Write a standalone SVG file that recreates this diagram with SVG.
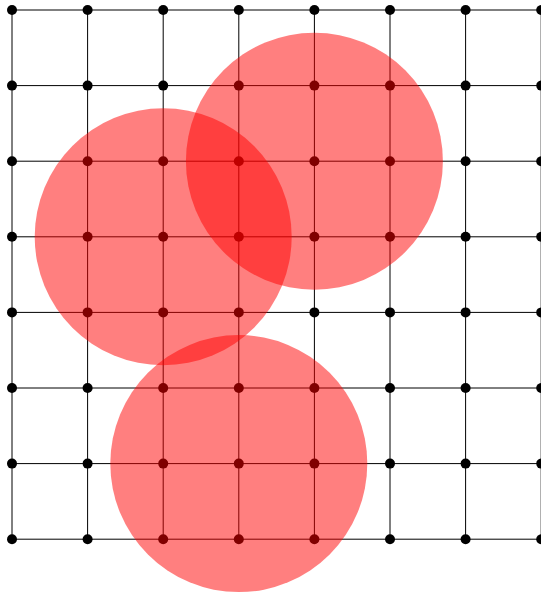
<svg xmlns="http://www.w3.org/2000/svg" width="541" height="594" viewBox="0 0 541 594">
<style>
.ln{stroke:#000;stroke-width:1;fill:none}
.pt{fill:#000}
.blob{fill:#ff0000;fill-opacity:0.5}
</style>
<rect width="541" height="594" fill="#fff"/>
<g id="connectors" class="ln">
<path d="M12 10H541.2M12 85.6H541.2M12 161.2H541.2M12 236.8H541.2M12 312.4H541.2M12 388H541.2M12 463.6H541.2M12 539.2H541.2"/>
<path d="M12 10V539.2M87.6 10V539.2M163.2 10V539.2M238.8 10V539.2M314.4 10V539.2M390 10V539.2M465.6 10V539.2M541.2 10V539.2"/>
</g>
<g id="points">
<g id="r0"><circle class="pt" cx="12" cy="10" r="5"/><circle class="pt" cx="87.6" cy="10" r="5"/><circle class="pt" cx="163.2" cy="10" r="5"/><circle class="pt" cx="238.8" cy="10" r="5"/><circle class="pt" cx="314.4" cy="10" r="5"/><circle class="pt" cx="390" cy="10" r="5"/><circle class="pt" cx="465.6" cy="10" r="5"/><circle class="pt" cx="541.2" cy="10" r="5"/></g>
<g id="r1"><circle class="pt" cx="12" cy="85.6" r="5"/><circle class="pt" cx="87.6" cy="85.6" r="5"/><circle class="pt" cx="163.2" cy="85.6" r="5"/><circle class="pt" cx="238.8" cy="85.6" r="5"/><circle class="pt" cx="314.4" cy="85.6" r="5"/><circle class="pt" cx="390" cy="85.6" r="5"/><circle class="pt" cx="465.6" cy="85.6" r="5"/><circle class="pt" cx="541.2" cy="85.6" r="5"/></g>
<g id="r2"><circle class="pt" cx="12" cy="161.2" r="5"/><circle class="pt" cx="87.6" cy="161.2" r="5"/><circle class="pt" cx="163.2" cy="161.2" r="5"/><circle class="pt" cx="238.8" cy="161.2" r="5"/><circle class="pt" cx="314.4" cy="161.2" r="5"/><circle class="pt" cx="390" cy="161.2" r="5"/><circle class="pt" cx="465.6" cy="161.2" r="5"/><circle class="pt" cx="541.2" cy="161.2" r="5"/></g>
<g id="r3"><circle class="pt" cx="12" cy="236.8" r="5"/><circle class="pt" cx="87.6" cy="236.8" r="5"/><circle class="pt" cx="163.2" cy="236.8" r="5"/><circle class="pt" cx="238.8" cy="236.8" r="5"/><circle class="pt" cx="314.4" cy="236.8" r="5"/><circle class="pt" cx="390" cy="236.8" r="5"/><circle class="pt" cx="465.6" cy="236.8" r="5"/><circle class="pt" cx="541.2" cy="236.8" r="5"/></g>
<g id="r4"><circle class="pt" cx="12" cy="312.4" r="5"/><circle class="pt" cx="87.6" cy="312.4" r="5"/><circle class="pt" cx="163.2" cy="312.4" r="5"/><circle class="pt" cx="238.8" cy="312.4" r="5"/><circle class="pt" cx="314.4" cy="312.4" r="5"/><circle class="pt" cx="390" cy="312.4" r="5"/><circle class="pt" cx="465.6" cy="312.4" r="5"/><circle class="pt" cx="541.2" cy="312.4" r="5"/></g>
<g id="r5"><circle class="pt" cx="12" cy="388" r="5"/><circle class="pt" cx="87.6" cy="388" r="5"/><circle class="pt" cx="163.2" cy="388" r="5"/><circle class="pt" cx="238.8" cy="388" r="5"/><circle class="pt" cx="314.4" cy="388" r="5"/><circle class="pt" cx="390" cy="388" r="5"/><circle class="pt" cx="465.6" cy="388" r="5"/><circle class="pt" cx="541.2" cy="388" r="5"/></g>
<g id="r6"><circle class="pt" cx="12" cy="463.6" r="5"/><circle class="pt" cx="87.6" cy="463.6" r="5"/><circle class="pt" cx="163.2" cy="463.6" r="5"/><circle class="pt" cx="238.8" cy="463.6" r="5"/><circle class="pt" cx="314.4" cy="463.6" r="5"/><circle class="pt" cx="390" cy="463.6" r="5"/><circle class="pt" cx="465.6" cy="463.6" r="5"/><circle class="pt" cx="541.2" cy="463.6" r="5"/></g>
<g id="r7"><circle class="pt" cx="12" cy="539.2" r="5"/><circle class="pt" cx="87.6" cy="539.2" r="5"/><circle class="pt" cx="163.2" cy="539.2" r="5"/><circle class="pt" cx="238.8" cy="539.2" r="5"/><circle class="pt" cx="314.4" cy="539.2" r="5"/><circle class="pt" cx="390" cy="539.2" r="5"/><circle class="pt" cx="465.6" cy="539.2" r="5"/><circle class="pt" cx="541.2" cy="539.2" r="5"/></g>
</g>
<g id="regions">
<circle id="c1" class="blob" cx="163.2" cy="236.8" r="128.5"/>
<circle id="c2" class="blob" cx="314.4" cy="161.2" r="128.5"/>
<circle id="c3" class="blob" cx="238.8" cy="463.6" r="128.5"/>
</g>
</svg>
